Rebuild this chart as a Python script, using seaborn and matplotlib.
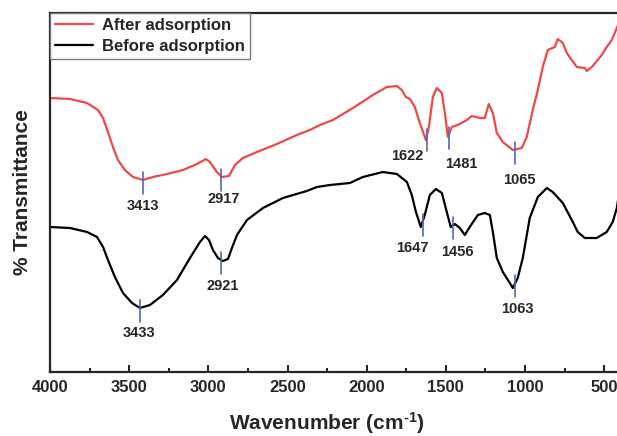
import numpy as np
import pandas as pd
import seaborn as sns
from matplotlib import pyplot as plt
from matplotlib.ticker import MultipleLocator

# FTIR spectra (transmittance in arbitrary units)
wn_after = [4000, 3874, 3766, 3697, 3665, 3634, 3602, 3571, 3527, 3476,
            3413, 3350, 3261, 3160, 3072, 3015, 2990, 2946, 2914, 2870,
            2832, 2782, 2693, 2567, 2441, 2359, 2295, 2213, 2087, 1961,
            1873, 1809, 1778, 1753, 1727, 1696, 1664, 1626, 1607, 1582,
            1557, 1525, 1506, 1487, 1462, 1412, 1368, 1336, 1285, 1254,
            1229, 1203, 1178, 1140, 1077, 1020, 989, 951, 919, 888,
            856, 812, 793, 761, 736, 705, 673, 622, 610, 572,
            515, 484, 452, 420, 400]
t_after = [274, 273, 269, 262, 254, 240, 225, 212, 202, 195,
           192, 195, 198, 202, 208, 213, 210, 200, 195, 196,
           207, 214, 220, 228, 237, 242, 247, 252, 264, 277,
           285, 286, 282, 275, 273, 265, 249, 232, 245, 275,
           284, 279, 259, 235, 245, 248, 252, 256, 254, 254,
           268, 259, 239, 230, 222, 224, 235, 262, 282, 305,
           322, 325, 333, 329, 319, 312, 305, 304, 301, 306,
           317, 325, 332, 344, 352]

wn_before = [4000, 3874, 3766, 3703, 3665, 3634, 3590, 3539, 3482, 3432,
             3369, 3287, 3198, 3116, 3053, 3021, 2996, 2971, 2939, 2908,
             2876, 2851, 2819, 2756, 2655, 2529, 2378, 2314, 2232, 2106,
             2024, 1898, 1809, 1746, 1715, 1689, 1658, 1633, 1601, 1563,
             1525, 1494, 1469, 1443, 1412, 1380, 1349, 1298, 1254, 1222,
             1203, 1178, 1140, 1096, 1077, 1046, 1014, 970, 919, 862,
             825, 761, 698, 667, 622, 547, 484, 446, 420, 400]
t_before = [145, 144, 140, 135, 125, 112, 95, 79, 69, 64,
            67, 77, 92, 114, 130, 136, 132, 122, 114, 111,
            113, 124, 137, 152, 164, 174, 181, 185, 187, 189,
            195, 200, 198, 190, 177, 160, 145, 157, 177, 183,
            179, 160, 145, 148, 144, 137, 145, 157, 159, 157,
            140, 114, 100, 89, 84, 94, 114, 154, 175, 184,
            180, 169, 150, 140, 134, 134, 140, 150, 164, 185]

peaks_after = [3413, 2917, 1622, 1481, 1065]
peaks_before = [3433, 2921, 1647, 1456, 1063]

series_names = ['After adsorption', 'Before adsorption']

df = pd.concat([
    pd.DataFrame({'wn': wn_after, 't': t_after, 'sample': series_names[0]}),
    pd.DataFrame({'wn': wn_before, 't': t_before, 'sample': series_names[1]}),
])

sns.set_style('ticks')
plt.rcParams['font.family'] = ['Liberation Sans', 'DejaVu Sans']
plt.rcParams['font.weight'] = 'bold'
plt.rcParams['mathtext.fontset'] = 'custom'
plt.rcParams['mathtext.rm'] = 'Liberation Sans:bold'
plt.rcParams['mathtext.bf'] = 'Liberation Sans:bold'
plt.rcParams['mathtext.it'] = 'Liberation Sans:bold'
plt.rcParams['mathtext.default'] = 'bf'

fig = plt.figure(figsize=(6.17, 4.36), dpi=100)
ax = fig.add_axes([50 / 617, 1 - 372 / 436, 570 / 617, 359 / 436])

sns.lineplot(data=df, x='wn', y='t', hue='sample', sort=False, estimator=None,
             palette=['#ef4848', 'black'], linewidth=1.6, ax=ax)

mark_color = '#5366b8'
# (dx, dy) offsets of peak labels in pixels
off_after = [(0, -26), (2, -22), (-19, -19), (12, -29), (5, -30)]
off_before = [(-1, -25), (2, -26), (-10, -26), (5, -26), (2, -26)]

for peaks, wn, tt, offs in [(peaks_after, wn_after, t_after, off_after),
                            (peaks_before, wn_before, t_before, off_before)]:
    x_asc = np.array(wn)[::-1]
    y_asc = np.array(tt)[::-1]
    for p, (dx, dy) in zip(peaks, offs):
        yv = np.interp(p, x_asc, y_asc)
        ax.plot([p, p], [yv - 14, yv + 8], color=mark_color, lw=1.2)
        ax.annotate(str(p), (p, yv), xytext=(dx, dy), textcoords='offset pixels',
                    ha='center', va='center', fontsize=10.5, fontweight='bold')

ax.set_xlim(4000, 400)
ax.set_ylim(0, 359)
ax.xaxis.set_major_locator(MultipleLocator(500))
ax.xaxis.set_minor_locator(MultipleLocator(250))
ax.set_yticks([])
ax.tick_params(axis='x', which='both', direction='in', width=1.5, labelsize=12)
ax.tick_params(axis='x', which='major', length=5, pad=6)
ax.tick_params(axis='x', which='minor', length=3)
for lbl in ax.get_xticklabels():
    lbl.set_fontweight('bold')
for s in ax.spines.values():
    s.set_linewidth(1.6)

ax.set_xlabel(r'Wavenumber (cm$^{\text{-1}}$)', fontsize=15, fontweight='bold')
ax.set_ylabel('% Transmittance', fontsize=15, fontweight='bold')
ax.xaxis.set_label_coords(0.485, -0.105)
ax.yaxis.set_label_coords(-0.032, 0.5)

leg = ax.legend(loc='upper left', borderaxespad=0, fancybox=False, edgecolor='#777777',
                framealpha=1, handlelength=2.3, handletextpad=0.5, labelspacing=0.35,
                borderpad=0.3, prop={'weight': 'bold', 'size': 12})
leg.get_frame().set_linewidth(1.0)
for h in leg.get_lines():
    h.set_linewidth(1.6)

fig.savefig('out.png', dpi=100)
